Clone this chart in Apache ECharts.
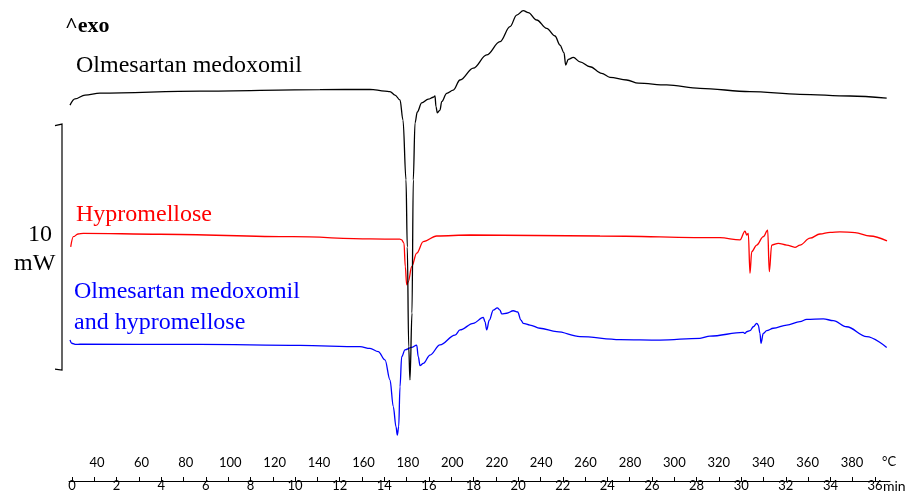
<!DOCTYPE html>
<html>
<head>
<meta charset="utf-8">
<script src="https://cdn.jsdelivr.net/npm/echarts@6/dist/echarts.min.js"></script>
<style>
  html, body { margin: 0; padding: 0; background: #fff; }
  #chart { width: 911px; height: 496px; }
</style>
</head>
<body>
<div id="chart"></div>
<script>
// Temperature (°C) and heat flow (mW, offset per curve)
const olmTemp = [27.84, 30.09, 34.6, 41.35, 86.38, 140.42, 162.93, 169.69, 171.94, 174.19, 176.44, 177.8, 179.15, 179.73, 180.36, 180.94,
  181.84, 182.43, 183.2, 184.23, 186.21, 189.19, 191.44, 192.2, 192.65, 193.24, 194.45, 195.22, 197.47, 200.44, 203.46, 209.45,
  215.48, 221.47, 225.98, 228.99, 231.97, 234.22, 238.0, 242.5, 246.24, 248.49, 250.29, 251.06, 252.23, 254.48, 257.5, 262.0,
  267.27, 271.0, 278.53, 283.75, 296.54, 311.54, 334.05, 356.57, 379.08, 395.61]
const olmHeat = [15.28, 15.53, 15.69, 15.77, 15.85, 15.91, 15.92, 15.85, 15.83, 15.69, 15.49, 14.67, 12.24, 9.51, 5.45, 4.11,
  6.83, 12.24, 14.55, 15.0, 15.37, 15.52, 15.6, 15.65, 15.22, 14.97, 15.08, 15.42, 15.76, 15.89, 16.3, 16.78,
  17.32, 17.86, 18.47, 18.94, 19.12, 19.04, 18.74, 18.4, 18.09, 17.72, 17.41, 16.91, 17.14, 17.22, 17.04, 16.84,
  16.57, 16.41, 16.3, 16.17, 16.1, 15.96, 15.83, 15.72, 15.65, 15.56]

const hpmcTemp = [28.16, 29.33, 31.44, 33.83, 68.37, 128.26, 162.93, 176.44, 177.2, 178.24, 178.83, 179.46, 180.18, 181.71, 183.96,
  186.93, 192.97, 207.96, 266.51, 320.54, 329.55, 331.8, 332.57, 333.29, 334.05, 334.82, 337.07, 340.04, 342.02, 342.74,
  343.82, 346.8, 350.58, 354.31, 356.57, 361.07, 365.57, 370.13, 374.58, 381.34, 388.09, 395.75]
const hpmcHeat = [9.52, 9.93, 10.04, 10.07, 10.03, 9.93, 9.84, 9.83, 9.8, 9.67, 8.71, 7.97, 8.1, 8.71, 9.26,
  9.73, 9.96, 10.0, 9.96, 9.89, 9.8, 10.16, 10.0, 10.07, 8.44, 9.32, 9.59, 9.93, 10.2, 8.51,
  9.59, 9.66, 9.59, 9.5, 9.59, 9.87, 10.04, 10.11, 10.13, 10.1, 9.96, 9.76]

const mixTemp = [27.84, 28.61, 30.54, 32.34, 86.38, 131.41, 158.43, 162.93, 166.67, 169.69, 171.94, 173.43, 174.64, 175.23, 175.86,
  176.44, 177.2, 178.69, 181.71, 183.96, 184.68, 185.45, 186.93, 189.95, 194.45, 201.21, 203.46, 209.45, 213.95, 214.72,
  215.48, 216.65, 218.45, 220.26, 221.47, 222.24, 224.49, 227.46, 229.44, 230.93, 231.96, 234.98, 239.48, 247.0, 257.5,
  275.51, 293.52, 311.54, 316.04, 331.04, 331.8, 332.57, 334.05, 335.54, 337.07, 337.79, 338.55, 339.0, 340.04, 341.57,
  344.54, 350.58, 356.57, 359.58, 367.06, 371.56, 377.59, 386.6, 395.61]
const mixHeat = [5.73, 5.6, 5.55, 5.56, 5.55, 5.51, 5.46, 5.39, 5.26, 4.92, 4.11, 3.02, 2.21, 1.87, 2.21,
  3.83, 5.05, 5.33, 5.43, 5.52, 5.05, 4.69, 4.78, 5.12, 5.53, 5.93, 6.14, 6.41, 6.65, 6.48,
  6.14, 6.54, 6.95, 7.04, 6.95, 6.79, 6.82, 6.92, 6.87, 6.54, 6.41, 6.34, 6.21, 6.07, 5.87,
  5.75, 5.73, 5.8, 5.89, 6.04, 6.0, 6.07, 6.11, 6.27, 6.41, 6.34, 6.0, 5.6, 6.0, 6.11,
  6.21, 6.34, 6.48, 6.57, 6.59, 6.52, 6.27, 5.87, 5.43]

const tempTicks = [40, 60, 80, 100, 120, 140, 160, 180, 200, 220, 240, 260, 280, 300, 320, 340, 360, 380]
const timeLabels = [0, 2, 4, 6, 8, 10, 12, 14, 16, 18, 20, 22, 24, 26, 28, 30, 32, 34, 36]
const timeTicks = Array.from({ length: 37 }, (_, i) => i)

const scaleBarBottom = 4.51 // mW, bottom of the 10 mW bracket
const scaleBarSize = 10

const pairs = (xs, ys) => xs.map((x, i) => [x, ys[i]])

const labelFont = 'Lato, "Liberation Sans", sans-serif'
const serif = '"Liberation Serif", "Times New Roman", serif'

const chart = echarts.init(document.getElementById('chart'))

const lineSeries = (name, xs, ys, color) => ({
    name: name,
    type: 'line',
    xAxisIndex: 1,
    data: pairs(xs, ys),
    showSymbol: false,
    smooth: 0.35,
    smoothMonotone: 'x',
    lineStyle: { color: color, width: 1.3 },
    animation: false
})

const options = {
    animation: false,
    grid: { left: 69, right: 21, top: 0, bottom: 15 },
    xAxis: [{
        // time axis (min)
        type: 'value',
        min: -0.134,
        max: 36.67,
        axisLine: { lineStyle: { color: '#000', width: 1 } },
        axisTick: { inside: true, length: 4, customValues: timeTicks, lineStyle: { color: '#000' } },
        axisLabel: {
            customValues: timeLabels,
            margin: -2,
            color: '#000',
            fontSize: 13,
            fontFamily: labelFont
        },
        splitLine: { show: false }
    }, {
        // temperature axis (°C), labels only
        type: 'value',
        position: 'bottom',
        min: 27.39,
        max: 397.1,
        axisLine: { show: false },
        axisTick: { show: false },
        axisLabel: {
            inside: true,
            customValues: tempTicks,
            margin: 12,
            color: '#000',
            fontSize: 13,
            fontFamily: labelFont
        },
        splitLine: { show: false }
    }],
    yAxis: {
        type: 'value',
        min: 0,
        max: 19.553,
        show: false
    },
    series: [
        lineSeries('Hypromellose', hpmcTemp, hpmcHeat, '#ff0000'),
        lineSeries('Olmesartan medoxomil and hypromellose', mixTemp, mixHeat, '#0000ff'),
        lineSeries('Olmesartan medoxomil', olmTemp, olmHeat, '#000000')
    ]
}
chart.setOption(options)

// Scale bar and annotations
const yTop = chart.convertToPixel({ yAxisIndex: 0 }, scaleBarBottom + scaleBarSize)
const yBot = chart.convertToPixel({ yAxisIndex: 0 }, scaleBarBottom)

const text = (x, y, str, font, color) => ({
    type: 'text',
    x: x,
    y: y,
    style: { text: str, font: font, fill: color, textVerticalAlign: 'middle' }
})

chart.setOption({
    graphic: [
        {
            type: 'polyline',
            shape: { points: [[55, yTop + 1.5], [62, yTop], [62, yBot], [55, yBot - 1]] },
            style: { stroke: '#000', lineWidth: 1.2, fill: null }
        },
        text(65, 26, '^exo', 'bold 22px ' + serif, '#000'),
        text(76, 66, 'Olmesartan medoxomil', '24px ' + serif, '#000'),
        text(76, 215, 'Hypromellose', '24px ' + serif, '#ff0000'),
        text(74, 292, 'Olmesartan medoxomil', '24px ' + serif, '#0000ff'),
        text(74, 323, 'and hypromellose', '24px ' + serif, '#0000ff'),
        text(28, 235, '10', '24px ' + serif, '#000'),
        text(14, 264, 'mW', '24px ' + serif, '#000'),
        text(883, 486, 'min', '14px ' + labelFont, '#000'),
        text(882, 462, '°C', '13px ' + labelFont, '#000')
    ]
})
</script>
</body>
</html>
